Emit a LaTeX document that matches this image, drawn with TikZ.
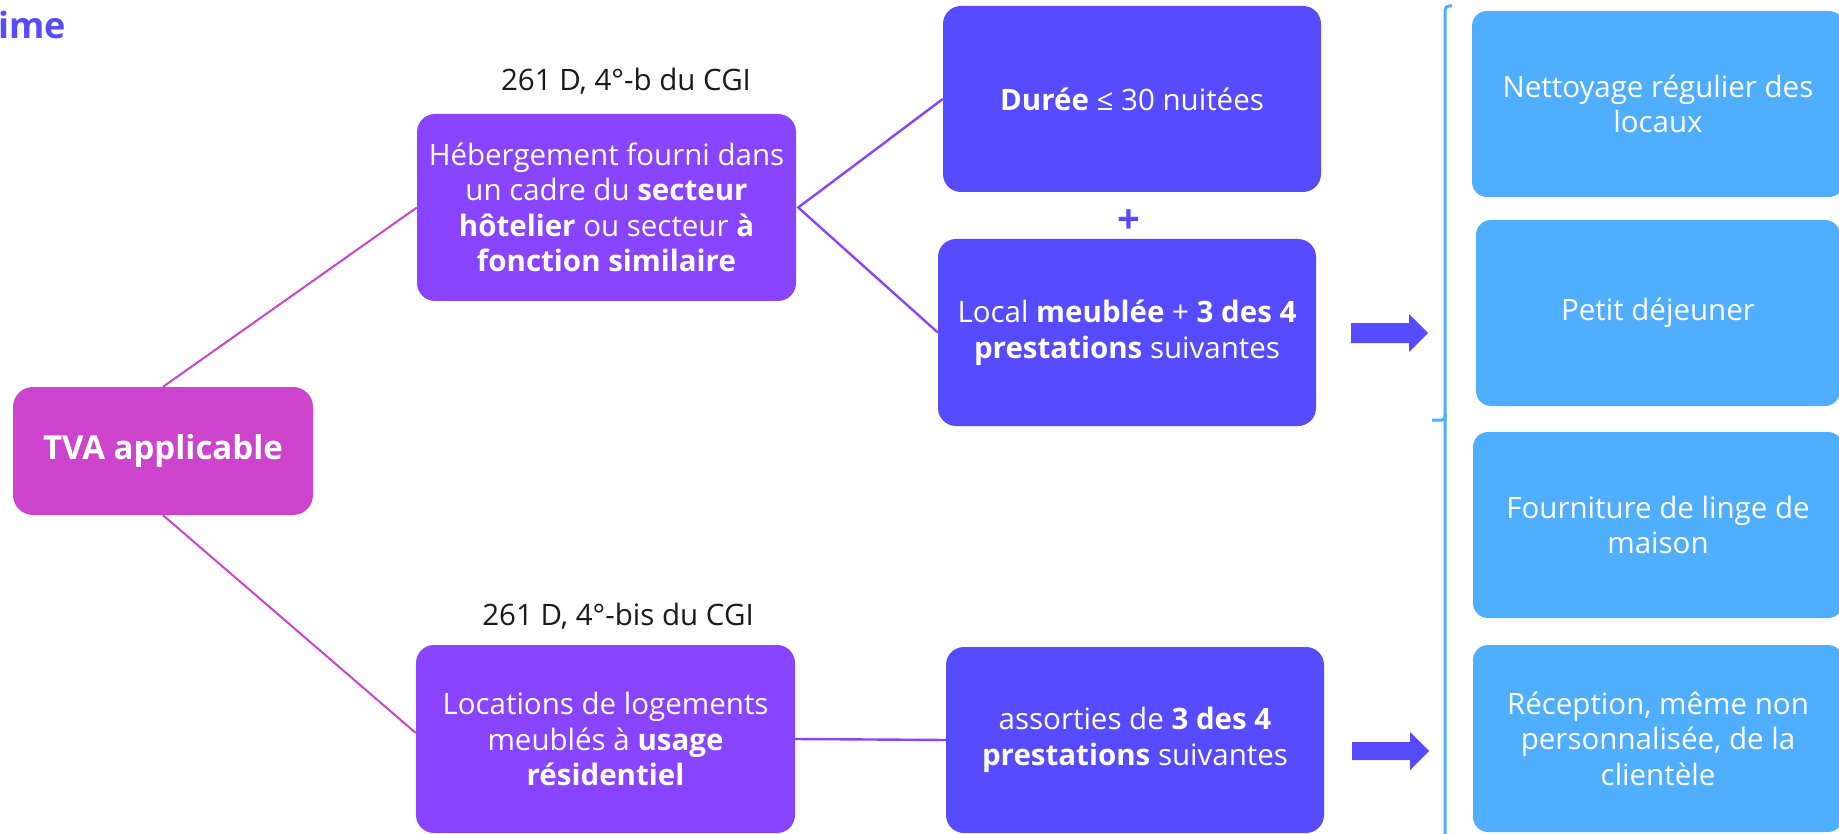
\documentclass[tikz,border=0pt]{standalone}
\usepackage{fontspec}
\setmainfont{Open Sans}
\definecolor{tvamag}{HTML}{CC44CC}
\definecolor{hebpurple}{HTML}{8844FF}
\definecolor{condblue}{HTML}{574BFF}
\definecolor{servblue}{HTML}{50AEFF}
\definecolor{labelink}{HTML}{1A1A1A}
\begin{document}
\begin{tikzpicture}[x=1pt, y=-1pt,
  box/.style={rounded corners=18pt, align=center, text=white, inner sep=0pt,
    font=\fontsize{29.5}{35.5}\selectfont, minimum height=187pt},
  rootbox/.style={box, fill=tvamag, minimum width=300pt, minimum height=128pt,
    rounded corners=20pt, font=\fontsize{33}{40}\selectfont\bfseries},
  casebox/.style={box, fill=hebpurple, minimum width=379pt},
  condbox/.style={box, fill=condblue, minimum width=378pt},
  servbox/.style={box, fill=servblue, rounded corners=15pt},
  magline/.style={draw=tvamag, line width=2pt},
  purpline/.style={draw=hebpurple, line width=2.4pt},
  reflabel/.style={text=labelink, font=\fontsize{29.5}{32}\selectfont, inner sep=0pt},
  blockarrow/.style={fill=condblue},
  bracketline/.style={draw=servblue, line width=3pt}
]
\useasboundingbox (0,0) rectangle (1839,834);

% page heading, cut by the left edge
\node[anchor=base west, inner sep=0pt, text=condblue,
  font=\fontsize{36}{44}\selectfont\bfseries] (heading) at (-2,39) {ime};

% root
\node[rootbox] (tva) at (163,451) {TVA applicable};

% the two regimes
\node[casebox] (heb) at (606.5,207.5)
  {Hébergement fourni dans\\un cadre du \textbf{secteur}\\\textbf{hôtelier} ou secteur \textbf{à}\\\textbf{fonction similaire}};
\node[casebox, minimum height=188pt] (loc) at (605.5,739)
  {Locations de logements\\meublés à \textbf{usage}\\\textbf{résidentiel}};

\node[reflabel] (refb) at (626,81) {261 D, 4°-b du CGI};
\node[reflabel] (refbis) at (618,616) {261 D, 4°-bis du CGI};

% conditions
\node[condbox, minimum height=186pt] (dur) at (1132,99) {\textbf{Durée} ≤ 30 nuitées};
\node[condbox] (lcl) at (1127,332.5)
  {Local \textbf{meublée} + \textbf{3 des 4}\\\textbf{prestations} suivantes};
\node[condbox, minimum height=186pt] (ass) at (1135,740)
  {assorties de \textbf{3 des 4}\\\textbf{prestations} suivantes};
\node[text=condblue, inner sep=0pt, font=\fontsize{40}{40}\selectfont\bfseries] (plus) at (1129,222) {+};

% services
\node[servbox, minimum width=372pt, minimum height=186pt] (svc1) at (1658,104)
  {Nettoyage régulier des\\locaux};
\node[servbox, minimum width=364pt, minimum height=186pt] (svc2) at (1658,313)
  {Petit déjeuner};
\node[servbox, minimum width=370pt, minimum height=186pt] (svc3) at (1658,525)
  {Fourniture de linge de\\maison};
\node[servbox, minimum width=370pt, minimum height=187pt] (svc4) at (1658,738.5)
  {Réception, même non\\personnalisée, de la\\clientèle};

% connectors
\draw[magline] (tva.north) -- (heb.west);
\draw[magline] (tva.south) -- ([yshift=6pt]loc.west);
\coordinate (hebout) at ([xshift=2pt]heb.east);
\draw[purpline] (dur.west) -- (hebout) -- (lcl.west);
\draw[purpline] (loc.east) -- (ass.west);

% block arrows towards the list of services
\fill[blockarrow] (1351,323) -- (1409,323) -- (1409,314) -- (1428,333)
  -- (1409,352) -- (1409,343) -- (1351,343) -- cycle;
\fill[blockarrow] (1352,742) -- (1410,742) -- (1410,732) -- (1429,751)
  -- (1410,770) -- (1410,760) -- (1352,760) -- cycle;

% bracket grouping the services
\draw[bracketline, rounded corners=4pt] (1452,6) -- (1445,6) -- (1445,420) -- (1445,845);
\draw[bracketline, rounded corners=3pt] (1432,420) -- (1445,420) -- (1445,414);
\end{tikzpicture}
\end{document}
